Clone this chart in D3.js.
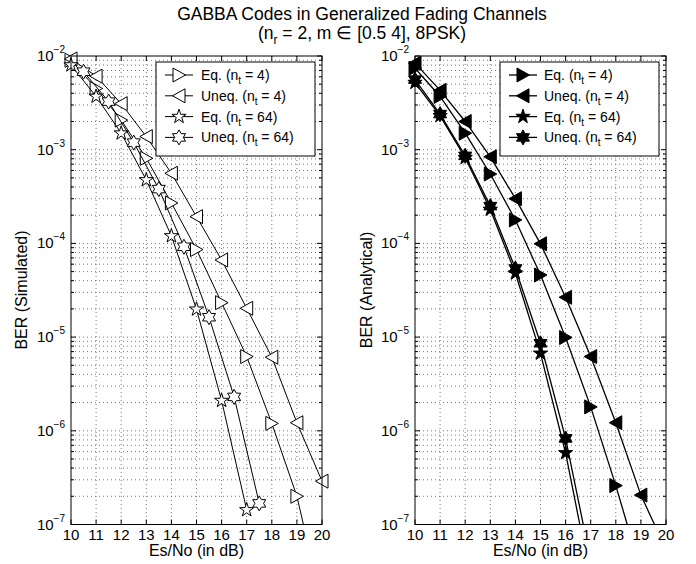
<!DOCTYPE html>
<html>
<head>
<meta charset="utf-8">
<script src="https://cdnjs.cloudflare.com/ajax/libs/d3/7.8.5/d3.min.js"></script>
<style>
  body { margin: 0; background: #fff; }
  text { font-family: "Liberation Sans", Arial, Helvetica, sans-serif; fill: #000; }
</style>
</head>
<body>
<svg id="fig" width="696" height="564"></svg>
<script>
// Es/No grid (dB)
const snr = [10, 11, 12, 13, 14, 15, 16, 17, 18, 19, 20];
const snrHalf = [10.5, 11.5, 12.5, 13.5, 14.5, 15.5, 16.5, 17.5];
const xTicks = [10, 11, 12, 13, 14, 15, 16, 17, 18, 19, 20];
const yTickExp = [-2, -3, -4, -5, -6, -7];

// simulated BER (left panel)
const simEq4 = [9.0e-3, 4.5e-3, 2.07e-3, 8.1e-4, 2.7e-4, 8.6e-5, 2.33e-5, 6.2e-6, 1.2e-6, 2.0e-7, 1.4e-8];
const simUneq4 = [9.3e-3, 6.1e-3, 3.1e-3, 1.38e-3, 5.6e-4, 1.93e-4, 6.65e-5, 2.03e-5, 6.1e-6, 1.22e-6, 2.9e-7];
const simEq64 = [8.0e-3, 3.7e-3, 1.5e-3, 4.75e-4, 1.2e-4, 1.98e-5, 2.1e-6, 1.43e-7];
const simUneq64 = [6.8e-3, 3.26e-3, 1.19e-3, 3.8e-4, 9.2e-5, 1.63e-5, 2.3e-6, 1.68e-7];

// analytical BER (right panel)
const anaEq4 = [7.4e-3, 3.7e-3, 1.5e-3, 5.5e-4, 1.78e-4, 4.6e-5, 9.9e-6, 1.8e-6, 2.6e-7, 3.2e-8];
const anaUneq4 = [8.4e-3, 4.3e-3, 2.0e-3, 8.4e-4, 3.0e-4, 9.9e-5, 2.66e-5, 6.2e-6, 1.22e-6, 2.06e-7, 5.4e-8];
const anaEq64 = [5.2e-3, 2.3e-3, 8.2e-4, 2.3e-4, 4.8e-5, 6.7e-6, 5.8e-7, 2.6e-8];
const anaUneq64 = [5.6e-3, 2.4e-3, 8.6e-4, 2.5e-4, 5.4e-5, 8.6e-6, 8.3e-7, 4.1e-8];

const legendLabels = [
  ['Eq. (n', 't', ' = 4)'],
  ['Uneq. (n', 't', ' = 4)'],
  ['Eq. (n', 't', ' = 64)'],
  ['Uneq. (n', 't', ' = 64)']
];
const markerTypes = ['triR', 'triL', 'pent', 'hex'];

const svg = d3.select('#fig');

function markerPath(type) {
  const p = d3.path();
  if (type === 'triR' || type === 'triL') {
    const s = type === 'triR' ? 1 : -1;
    p.moveTo(6.5 * s, 0);
    p.lineTo(-6 * s, -7);
    p.lineTo(-6 * s, 7);
    p.closePath();
  } else {
    const n = type === 'pent' ? 5 : 6;
    const R = 7.5;
    const r = type === 'pent' ? R * 0.382 : R * 0.577;
    for (let i = 0; i < 2 * n; i++) {
      const a = -Math.PI / 2 + i * Math.PI / n;
      const rr = i % 2 === 0 ? R : r;
      if (i === 0) p.moveTo(rr * Math.cos(a), rr * Math.sin(a));
      else p.lineTo(rr * Math.cos(a), rr * Math.sin(a));
    }
    p.closePath();
  }
  return p.toString();
}

function addTextWithSub(sel, parts, supOrSub, small) {
  sel.append('tspan').text(parts[0]);
  sel.append('tspan').attr('dy', supOrSub).attr('font-size', small).text(parts[1]);
  if (parts[2] !== undefined) sel.append('tspan').attr('dy', -supOrSub).text(parts[2]);
}

function drawPanel(cfg) {
  const x = d3.scaleLinear().domain([10, 20]).range([cfg.x0, cfg.x1]);
  const y = d3.scaleLog().domain([1e-7, 1e-2]).range([524.5, 56]);
  const g = svg.append('g');

  const clipId = 'clip' + cfg.id;
  svg.append('clipPath').attr('id', clipId)
    .append('rect')
    .attr('x', cfg.x0).attr('y', 56)
    .attr('width', cfg.x1 - cfg.x0).attr('height', 524.5 - 56);

  // grid (dotted), major x and all log ticks in y
  const yGrid = y.ticks().filter(v => v > 1e-7 && v < 1e-2);
  g.selectAll('line.gy').data(yGrid).enter().append('line')
    .attr('x1', cfg.x0).attr('x2', cfg.x1)
    .attr('y1', d => y(d)).attr('y2', d => y(d))
    .attr('stroke', '#555').attr('stroke-width', 0.8).attr('stroke-dasharray', '1,3');
  g.selectAll('line.gx').data(xTicks.slice(1, -1)).enter().append('line')
    .attr('x1', d => x(d)).attr('x2', d => x(d))
    .attr('y1', 56).attr('y2', 524.5)
    .attr('stroke', '#555').attr('stroke-width', 0.8).attr('stroke-dasharray', '1,3');

  // ticks inside, all four sides
  const ticks = g.append('g').attr('stroke', '#000').attr('stroke-width', 1);
  xTicks.forEach(v => {
    ticks.append('line').attr('x1', x(v)).attr('x2', x(v)).attr('y1', 524.5).attr('y2', 519.5);
    ticks.append('line').attr('x1', x(v)).attr('x2', x(v)).attr('y1', 56).attr('y2', 61);
  });
  y.ticks().forEach(v => {
    const major = Math.abs(Math.log10(v) - Math.round(Math.log10(v))) < 1e-9;
    const len = major ? 5 : 3;
    ticks.append('line').attr('x1', cfg.x0).attr('x2', cfg.x0 + len).attr('y1', y(v)).attr('y2', y(v));
    ticks.append('line').attr('x1', cfg.x1).attr('x2', cfg.x1 - len).attr('y1', y(v)).attr('y2', y(v));
  });

  // tick labels
  g.selectAll('text.xt').data(xTicks).enter().append('text')
    .attr('x', d => x(d)).attr('y', 540)
    .attr('text-anchor', 'middle').attr('font-size', 15)
    .text(d => d);
  yTickExp.forEach(e => {
    const t = g.append('text')
      .attr('x', cfg.x0 - 6).attr('y', y(Math.pow(10, e)) + 5)
      .attr('text-anchor', 'end').attr('font-size', 15);
    t.append('tspan').text('10');
    t.append('tspan').attr('dy', -8).attr('font-size', 10).text('\u2212' + Math.abs(e));
  });

  // axis labels
  g.append('text')
    .attr('x', (cfg.x0 + cfg.x1) / 2).attr('y', 556)
    .attr('text-anchor', 'middle').attr('font-size', 16)
    .text('Es/No (in dB)');
  g.append('text')
    .attr('transform', `translate(${cfg.yLabelX},290) rotate(-90)`)
    .attr('text-anchor', 'middle').attr('font-size', 16)
    .text(cfg.yLabel);

  // series
  const line = d3.line().x(d => x(d[0])).y(d => y(d[1]));
  cfg.series.forEach((s, i) => {
    const pts = s.values.map((v, k) => [s.xs[k], v]);
    g.append('path')
      .attr('clip-path', `url(#${clipId})`)
      .attr('d', line(pts))
      .attr('fill', 'none').attr('stroke', '#000').attr('stroke-width', cfg.lw);
    g.selectAll('path.m' + i).data(pts.filter(d => d[1] >= 1e-7)).enter().append('path')
      .attr('transform', d => `translate(${x(d[0])},${y(d[1])})`)
      .attr('d', markerPath(markerTypes[i]))
      .attr('fill', cfg.filled ? '#000' : '#fff')
      .attr('stroke', '#000').attr('stroke-width', 1);
  });

  // axes box
  g.append('rect')
    .attr('x', cfg.x0).attr('y', 56)
    .attr('width', cfg.x1 - cfg.x0).attr('height', 524.5 - 56)
    .attr('fill', 'none').attr('stroke', '#000').attr('stroke-width', 1);

  // legend
  const lg = g.append('g');
  lg.append('rect')
    .attr('x', cfg.legX).attr('y', 62)
    .attr('width', 159).attr('height', 94)
    .attr('fill', '#fff').attr('stroke', '#000').attr('stroke-width', 1);
  legendLabels.forEach((lab, i) => {
    const ry = 75 + i * 20.8;
    lg.append('line')
      .attr('x1', cfg.legX + 9).attr('x2', cfg.legX + 37)
      .attr('y1', ry).attr('y2', ry)
      .attr('stroke', '#000').attr('stroke-width', cfg.lw);
    lg.append('path')
      .attr('transform', `translate(${cfg.legX + 23},${ry})`)
      .attr('d', markerPath(markerTypes[i]))
      .attr('fill', cfg.filled ? '#000' : '#fff')
      .attr('stroke', '#000').attr('stroke-width', 1);
    const t = lg.append('text')
      .attr('x', cfg.legX + cfg.legTextDx).attr('y', ry + 5)
      .attr('font-size', 14);
    addTextWithSub(t, lab, 4, 10);
  });
}

drawPanel({
  id: 'L', x0: 71, x1: 322, yLabel: 'BER (Simulated)', yLabelX: 27,
  legX: 156, legTextDx: 45, filled: false, lw: 1,
  series: [
    { xs: snr, values: simEq4 },
    { xs: snr, values: simUneq4 },
    { xs: snr, values: simEq64 },
    { xs: snrHalf, values: simUneq64 }
  ]
});

drawPanel({
  id: 'R', x0: 415, x1: 666, yLabel: 'BER (Analytical)', yLabelX: 372,
  legX: 500, legTextDx: 44, filled: true, lw: 1.3,
  series: [
    { xs: snr, values: anaEq4 },
    { xs: snr, values: anaUneq4 },
    { xs: snr, values: anaEq64 },
    { xs: snr, values: anaUneq64 }
  ]
});

// figure title
const title = svg.append('g');
title.append('text')
  .attr('x', 362).attr('y', 20).attr('text-anchor', 'middle').attr('font-size', 17.5)
  .text('GABBA Codes in Generalized Fading Channels');
const t2 = title.append('text')
  .attr('x', 362).attr('y', 39).attr('text-anchor', 'middle').attr('font-size', 17.5);
addTextWithSub(t2, ['(n', 'r', ' = 2, m \u2208 [0.5 4], 8PSK)'], 5, 12);
</script>
</body>
</html>
